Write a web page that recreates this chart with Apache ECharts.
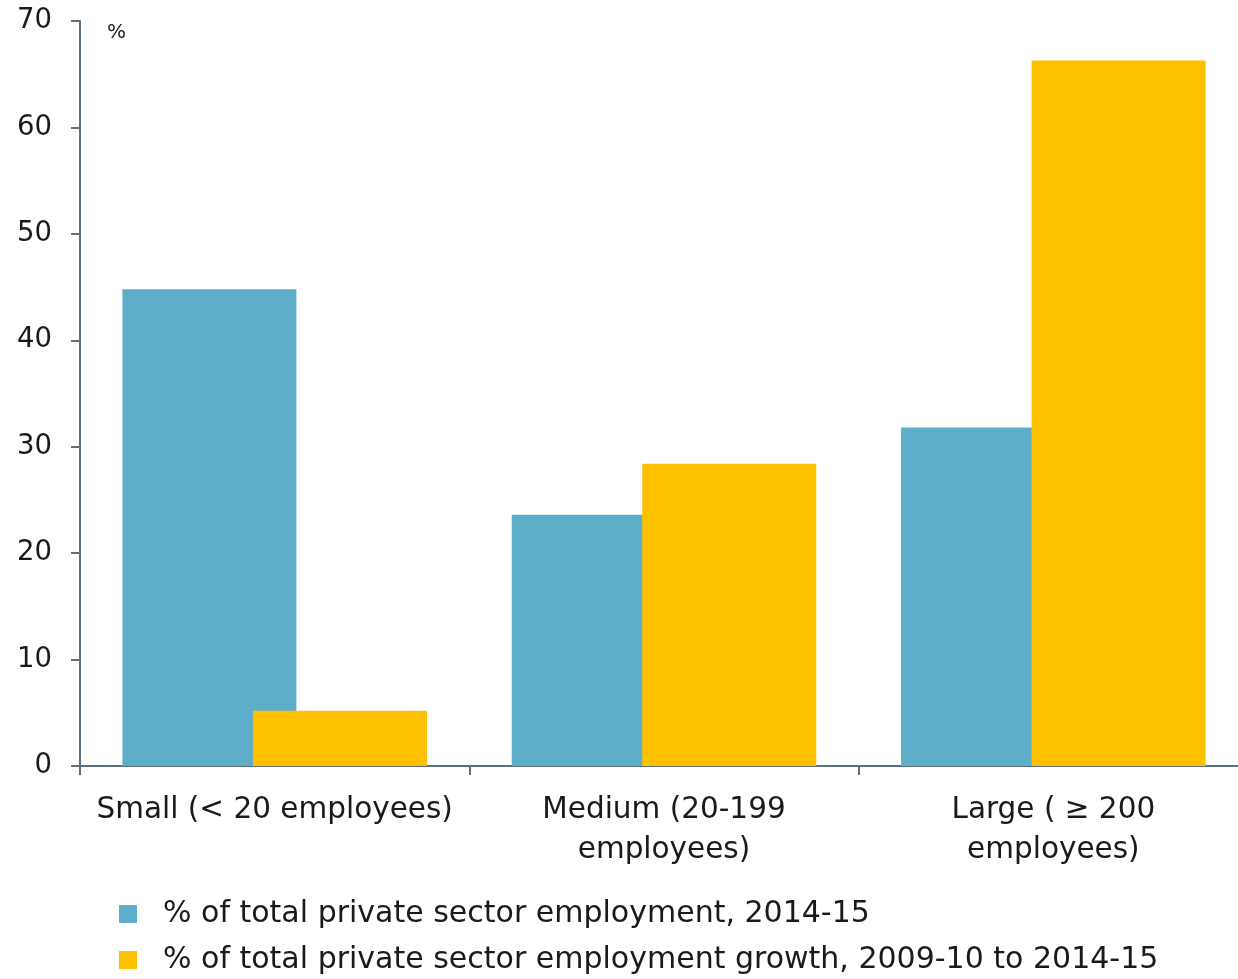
<!DOCTYPE html>
<html>
<head>
<meta charset="utf-8">
<script src="https://cdn.jsdelivr.net/npm/echarts@6/dist/echarts.min.js"></script>
<style>
  html, body { margin: 0; padding: 0; background: #ffffff; }
  #chart { width: 1238px; height: 979px; }
</style>
</head>
<body>
<div id="chart"></div>
<script>
// Business size categories
const categories = ['Small (< 20 employees)', 'Medium (20-199\nemployees)', 'Large ( \u2265 200\nemployees)'];
// Share of total private sector employment, 2014-15 (%)
const employmentShare = [44.8, 23.6, 31.8];
// Share of total private sector employment growth, 2009-10 to 2014-15 (%)
const growthShare = [5.2, 28.4, 66.3];
const seriesNames = [
  '% of total private sector employment, 2014-15',
  '% of total private sector employment growth, 2009-10 to 2014-15'
];
const yTicks = { min: 0, max: 70, interval: 10 };

const FONT = 'DejaVu Sans';
const AXIS_COLOR = '#5b7083';
const TEXT_COLOR = '#1a1a1a';

const chart = echarts.init(document.getElementById('chart'), null, { renderer: 'canvas' });

chart.setOption({
  animation: false,
  backgroundColor: '#ffffff',
  textStyle: { fontFamily: FONT },
  // plot area runs slightly past the right edge of the canvas
  grid: { left: 80, top: 21, width: 1168, height: 745, containLabel: false, outerBoundsMode: 'none' },
  legend: {
    orient: 'vertical',
    left: 119,
    top: 897,
    padding: 0,
    itemWidth: 18,
    itemHeight: 18,
    itemGap: 12,
    icon: 'rect',
    selectedMode: false,
    textStyle: {
      fontFamily: FONT,
      fontSize: 30,
      color: TEXT_COLOR,
      lineHeight: 34,
      padding: [0, 0, 0, 21]
    },
    data: seriesNames
  },
  xAxis: {
    type: 'category',
    data: categories,
    boundaryGap: true,
    axisLine: { show: true, lineStyle: { color: AXIS_COLOR, width: 2 } },
    axisTick: { show: true, length: 9, lineStyle: { color: AXIS_COLOR, width: 2 } },
    axisLabel: {
      interval: 0,
      margin: 24,
      fontFamily: FONT,
      fontSize: 29.5,
      lineHeight: 40,
      color: TEXT_COLOR,
      verticalAlign: 'top'
    }
  },
  yAxis: {
    type: 'value',
    min: yTicks.min,
    max: yTicks.max,
    interval: yTicks.interval,
    name: '%',
    nameLocation: 'end',
    nameGap: 0,
    nameTextStyle: { fontFamily: FONT, fontSize: 20, color: TEXT_COLOR, align: 'left', verticalAlign: 'top', padding: [2, 0, 0, 27] },
    axisLine: { show: true, lineStyle: { color: AXIS_COLOR, width: 2 } },
    axisTick: { show: true, length: 9, lineStyle: { color: AXIS_COLOR, width: 2 } },
    splitLine: { show: false },
    axisLabel: {
      margin: 28,
      fontFamily: FONT,
      fontSize: 27.5,
      color: TEXT_COLOR,
      padding: [6, 0, 0, 0]
    }
  },
  series: [
    {
      name: seriesNames[0],
      type: 'bar',
      data: employmentShare,
      barWidth: 174,
      barGap: '-25%',
      itemStyle: { color: '#5eaec9' }
    },
    {
      name: seriesNames[1],
      type: 'bar',
      data: growthShare,
      barWidth: 174,
      barGap: '-25%',
      itemStyle: { color: '#ffc000' }
    }
  ]
});
</script>
</body>
</html>
